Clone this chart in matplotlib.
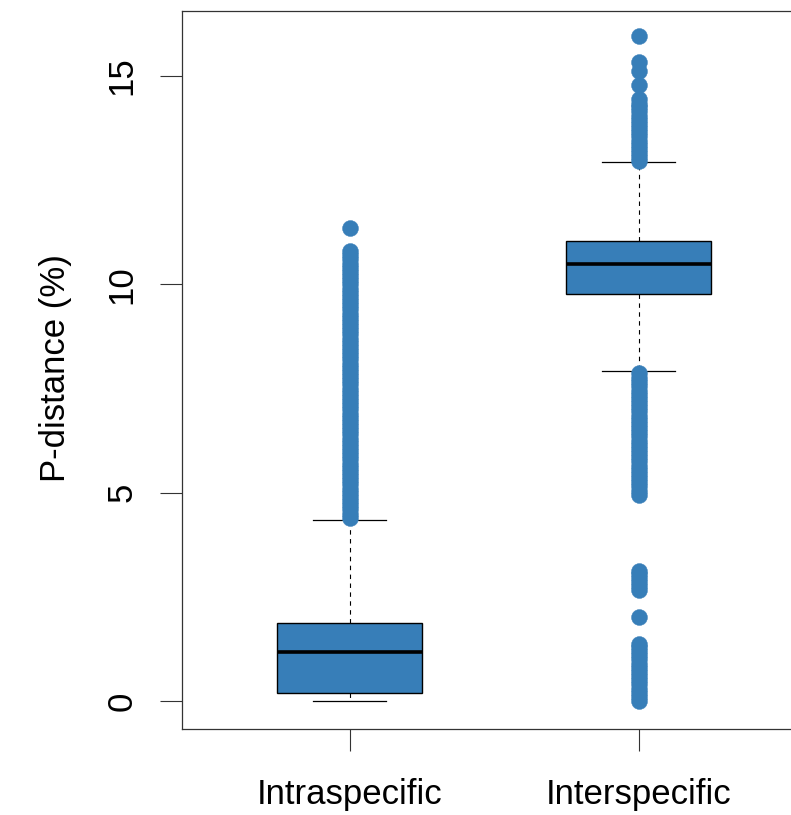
import matplotlib
matplotlib.use("Agg")
import matplotlib.pyplot as plt

plt.rcParams['font.family'] = ['Liberation Sans', 'DejaVu Sans']

# --- 數據 ---
groups = ['Intraspecific', 'Interspecific']
q1 = [0.19, 9.78]
median = [1.17, 10.50]
q3 = [1.87, 11.03]
whisker_low = [0.0, 7.91]
whisker_high = [4.35, 12.93]

# 離群值：密集成柱狀，依圖上讀取的位置列出
intra_outliers = [4.40, 4.50, 4.60, 4.70, 4.80, 4.90, 5.00, 5.10, 5.20, 5.30,
                  5.40, 5.50, 5.60, 5.70, 5.80, 5.90, 6.00, 6.10, 6.20, 6.30,
                  6.40, 6.50, 6.60, 6.70, 6.80, 6.90, 7.00, 7.10, 7.20, 7.30,
                  7.40, 7.50, 7.60, 7.70, 7.80, 7.90, 8.00, 8.10, 8.20, 8.30,
                  8.40, 8.50, 8.60, 8.70, 8.80, 8.90, 9.00, 9.10, 9.20, 9.30,
                  9.40, 9.50, 9.60, 9.70, 9.80, 9.90, 10.00, 10.10, 10.20,
                  10.30, 10.40, 10.50, 10.60, 10.70, 10.80, 11.35]
inter_outliers = [0.00, 0.10, 0.20, 0.30, 0.40, 0.50, 0.60, 0.70, 0.80, 0.90,
                  1.00, 1.10, 1.20, 1.30, 1.36,
                  2.02, 2.66, 2.75, 2.85, 2.95, 3.05, 3.12,
                  4.95, 5.05, 5.15, 5.25, 5.35, 5.45, 5.55, 5.65, 5.75, 5.85,
                  5.95, 6.05, 6.15, 6.25, 6.35, 6.45, 6.55, 6.65, 6.75, 6.85,
                  6.95, 7.05, 7.15, 7.25, 7.35, 7.45, 7.55, 7.65, 7.75, 7.87,
                  12.95, 13.05, 13.15, 13.25, 13.35, 13.45, 13.55, 13.65,
                  13.75, 13.85, 13.95, 14.05, 14.15, 14.25, 14.32,
                  14.45, 14.78, 15.13, 15.34, 15.97]
outliers = [intra_outliers, inter_outliers]

y_ticks = [0, 5, 10, 15]
box_color = '#377EB8'

# --- 繪圖 ---
fig = plt.figure(figsize=(7.91, 8.15), dpi=100)
ax = fig.add_axes([0.2301, 0.1055, 0.789, 0.881])

stats = []
for i in range(len(groups)):
    stats.append(dict(label=groups[i], q1=q1[i], med=median[i], q3=q3[i],
                      whislo=whisker_low[i], whishi=whisker_high[i],
                      fliers=outliers[i]))

ax.bxp(stats, positions=[1, 2], widths=0.5, patch_artist=True,
       boxprops=dict(facecolor=box_color, edgecolor='black', linewidth=1.0),
       medianprops=dict(color='black', linewidth=2.6),
       whiskerprops=dict(color='black', linewidth=0.8, linestyle=(0, (4, 4))),
       capprops=dict(color='black', linewidth=0.9),
       capwidths=0.25,
       flierprops=dict(marker='o', markersize=11.5, markerfacecolor=box_color,
                       markeredgecolor=box_color, markeredgewidth=0.3))

ax.set_xlim(0.42, 2.58)
ax.set_ylim(-0.67, 16.56)

ax.set_yticks(y_ticks)
ax.set_yticklabels([str(v) for v in y_ticks], rotation=90, va='center')
ax.set_xticks([1, 2])
ax.set_xticklabels(groups)
ax.tick_params(axis='both', labelsize=25, length=15.5, width=0.8, color='#333333')
ax.tick_params(axis='y', pad=16)
ax.tick_params(axis='x', pad=20)

for s in ax.spines.values():
    s.set_color('#333333')
    s.set_linewidth(0.9)

fig.text(56 / 791, 0.548, 'P-distance (%)', rotation=90, ha='center', va='center',
         fontsize=25)

fig.savefig('out.png', dpi=100)
